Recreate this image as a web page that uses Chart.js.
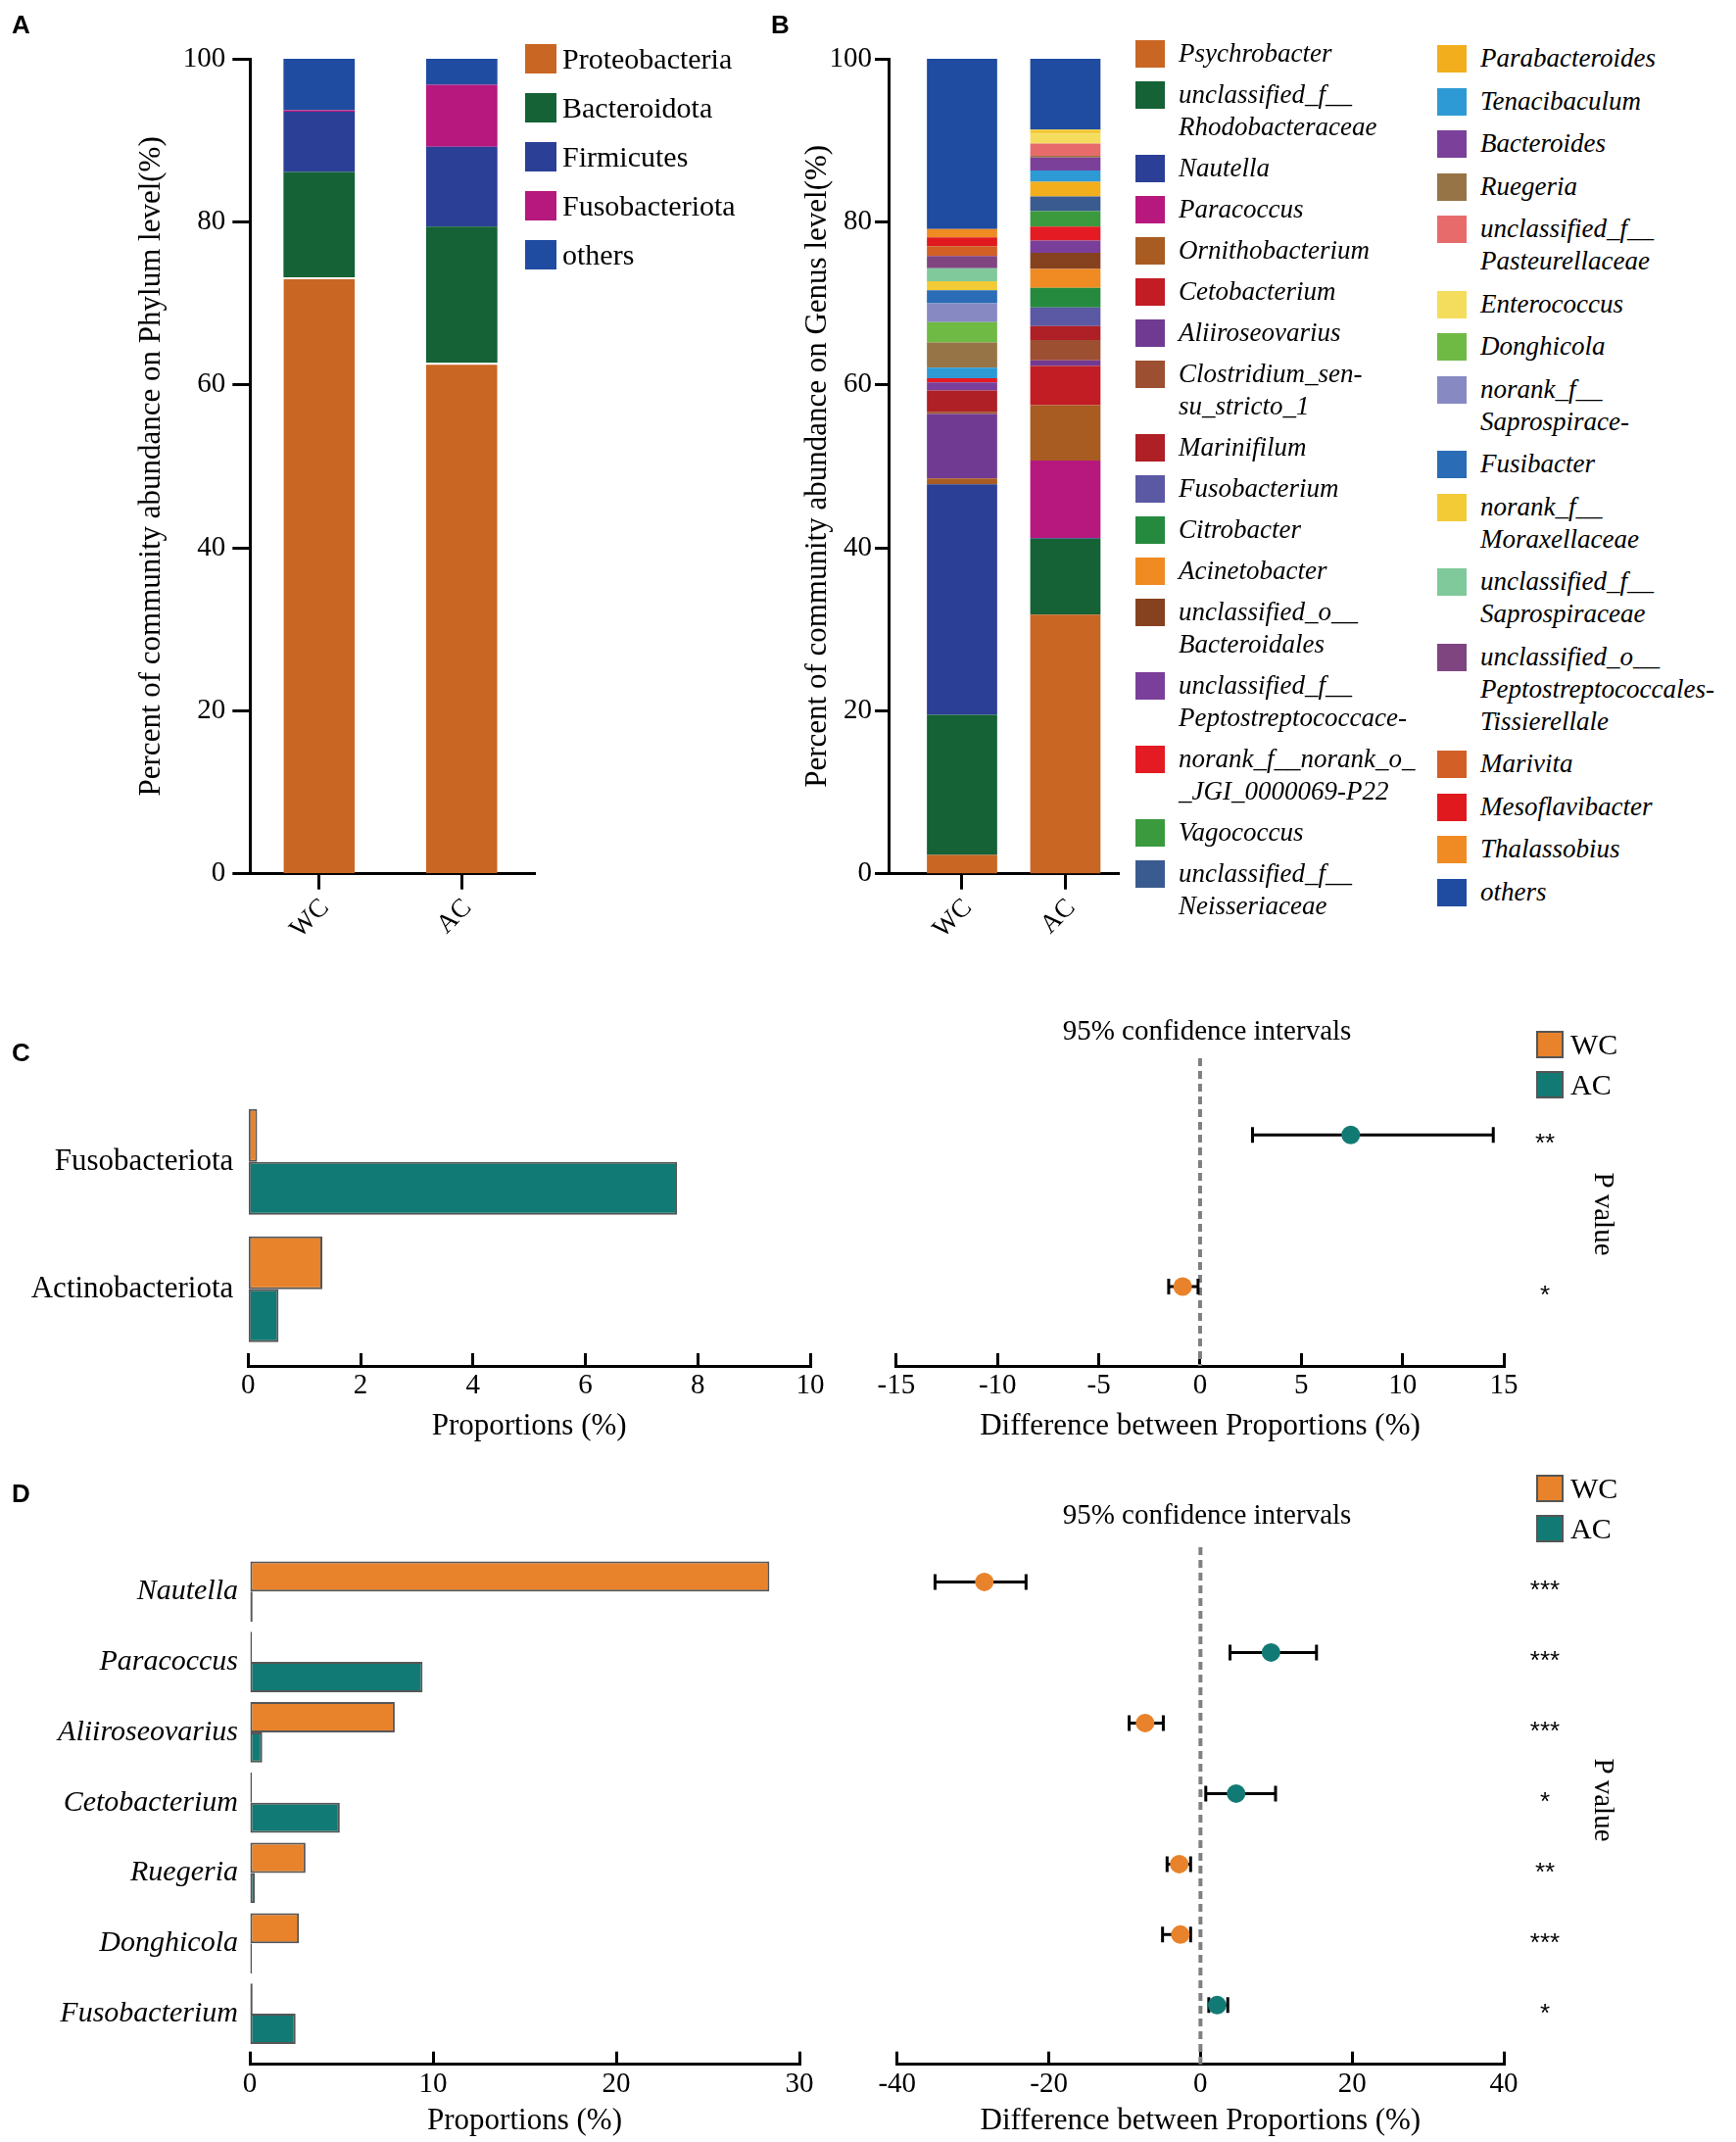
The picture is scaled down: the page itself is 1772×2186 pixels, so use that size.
<!DOCTYPE html>
<html lang="en">
<head>
<meta charset="UTF-8">
<title>Community composition and STAMP plots</title>
<script src="https://cdn.jsdelivr.net/npm/chart.js@4.4.0/dist/chart.umd.min.js"></script>
<style>
  body { margin: 0; background: #fff; }
  #page { position: relative; width: 1772px; height: 2186px; overflow: hidden;
          font-family: 'Liberation Serif', 'Times New Roman', serif; color: #000; }
  .box { position: absolute; }
  .tag { position: absolute; font-family: 'Liberation Sans', Arial, sans-serif; font-weight: bold; font-size: 26px; line-height: 1; }
  .txt { position: absolute; white-space: nowrap; line-height: 1; }
  .lgA { position: absolute; left: 536px; top: 35px; }
  .lgA .row { display: flex; align-items: center; height: 50px; font-size: 30px; }
  .lgA .sq { width: 32px; height: 30px; margin-right: 6px; }
  .lgB { position: absolute; display: flex; flex-direction: column; font-style: italic; font-size: 27px; line-height: 33px; }
  .lgB .row { display: flex; align-items: flex-start; }
  .lgB .sq { width: 30px; height: 28px; margin-top: 3px; margin-right: 14px; flex: none; }
  .lgB .lab { white-space: pre; }
  .lgG { position: absolute; font-size: 30px; }
  .lgG .row { display: flex; align-items: center; height: 40.6px; }
  .lgG .sq { width: 24px; height: 24px; border: 2.5px solid #555; margin-right: 7px; }
  .pval { position: absolute; writing-mode: vertical-rl; font-size: 29px; line-height: 1; transform: translate(-50%, -50%); }
</style>
</head>
<body>
<div id="page">
  <div class="box" style="left:0;top:0;width:780px;height:980px"><canvas id="chartA"></canvas></div>
  <div class="box" style="left:780px;top:0;width:400px;height:980px"><canvas id="chartB"></canvas></div>
  <div class="box" style="left:0;top:1000px;width:880px;height:480px"><canvas id="chartC1"></canvas></div>
  <div class="box" style="left:880px;top:1000px;width:892px;height:480px"><canvas id="chartC2"></canvas></div>
  <div class="box" style="left:0;top:1540px;width:880px;height:646px"><canvas id="chartD1"></canvas></div>
  <div class="box" style="left:880px;top:1540px;width:892px;height:646px"><canvas id="chartD2"></canvas></div>

  <div class="tag" style="left:12px;top:12px">A</div>
  <div class="tag" style="left:787px;top:12px">B</div>
  <div class="tag" style="left:12px;top:1061px">C</div>
  <div class="tag" style="left:12px;top:1511px">D</div>

  <div id="legendA" class="lgA"></div>
  <div id="legendB1" class="lgB" style="left:1159px;top:38px;gap:9px"></div>
  <div id="legendB2" class="lgB" style="left:1467px;top:43px;gap:10.5px"></div>

  <div class="txt" style="left:1232px;top:1037px;font-size:29px;transform:translateX(-50%)">95% confidence intervals</div>
  <div class="txt" style="left:1232px;top:1531px;font-size:29px;transform:translateX(-50%)">95% confidence intervals</div>
  <div id="legendC" class="lgG" style="left:1568px;top:1046px"></div>
  <div id="legendD" class="lgG" style="left:1568px;top:1499px"></div>
  <div class="pval" style="left:1637px;top:1239px">P value</div>
  <div class="pval" style="left:1637px;top:1837px">P value</div>
</div>

<script>
// Panel A: phylum level composition
const groups = ['WC', 'AC'];
const phylumNames = ['Proteobacteria', 'Bacteroidota', 'Firmicutes', 'Fusobacteriota', 'others'];
const phylumColors = ['#C96623', '#146235', '#2B3F97', '#B7187D', '#1F4CA1'];
const phylumWC = [73.2, 12.9, 7.4, 0.2, 6.3];
const phylumAC = [62.7, 16.7, 9.8, 7.6, 3.2];

// Panel B: genus level composition (legend labels keep their line breaks)
const genusNames = [
  'Psychrobacter', 'unclassified_f__\nRhodobacteraceae', 'Nautella', 'Paracoccus',
  'Ornithobacterium', 'Cetobacterium', 'Aliiroseovarius', 'Clostridium_sen-\nsu_stricto_1',
  'Marinifilum', 'Fusobacterium', 'Citrobacter', 'Acinetobacter',
  'unclassified_o__\nBacteroidales', 'unclassified_f__\nPeptostreptococcace-',
  'norank_f__norank_o_\n_JGI_0000069-P22', 'Vagococcus', 'unclassified_f__\nNeisseriaceae',
  'Parabacteroides', 'Tenacibaculum', 'Bacteroides', 'Ruegeria',
  'unclassified_f__\nPasteurellaceae', 'Enterococcus', 'Donghicola',
  'norank_f__\nSaprospirace-', 'Fusibacter', 'norank_f__\nMoraxellaceae',
  'unclassified_f__\nSaprospiraceae', 'unclassified_o__\nPeptostreptococcales-\nTissierellale',
  'Marivita', 'Mesoflavibacter', 'Thalassobius', 'others'
];
const genusColors = [
  '#C96623', '#146235', '#2B3F97', '#B7187D',
  '#A85C22', '#C21C24', '#713A92', '#9D4F31',
  '#AF1F26', '#5B58A4', '#258A3E', '#EF8B22',
  '#86421F', '#7A3F9A', '#E41B22', '#3B9A3E', '#3A5B8F',
  '#F2AE1C', '#2E9AD5', '#7B409A', '#977446',
  '#E86B6B', '#F4DD5C', '#6EBA45', '#8789C3', '#2A6CB5', '#F2CB36',
  '#7FC99B', '#7F4581', '#D15F26', '#E0191E', '#EF8B22', '#1F4CA1'
];
const genusWC = [2.3, 17.2, 28.3, 0, 0.7, 0, 7.9, 0.3, 2.6, 0, 0, 0, 0, 1.0, 0.5, 0, 0,
                 0, 1.3, 0, 3.1, 0, 0, 2.5, 2.3, 1.6, 1.1, 1.6, 1.5, 1.2, 1.1, 1.0, 20.9];
const genusAC = [31.8, 9.3, 0.1, 9.5, 6.8, 4.8, 0.7, 2.5, 1.7, 2.3, 2.4, 2.3, 2.0, 1.5, 1.7, 1.9, 1.8,
                 1.8, 1.4, 1.6, 0.2, 1.5, 1.2, 0, 0, 0, 0.5, 0, 0, 0, 0, 0, 8.7];

// Panel C: phylum level differences
const phylaC = ['Fusobacteriota', 'Actinobacteriota'];
const propWC_C = [0.16, 1.32];
const propAC_C = [7.63, 0.54];
const diffC = [7.44, -0.86];
const ciLowC = [2.59, -1.55];
const ciHighC = [14.48, -0.10];
const starsC = ['**', '*'];

// Panel D: genus level differences
const generaD = ['Nautella', 'Paracoccus', 'Aliiroseovarius', 'Cetobacterium', 'Ruegeria', 'Donghicola', 'Fusobacterium'];
const propWC_D = [28.36, 0.12, 7.91, 0.12, 3.04, 2.68, 0.15];
const propAC_D = [0.15, 9.43, 0.68, 4.91, 0.27, 0.12, 2.5];
const diffD = [-28.5, 9.3, -7.3, 4.7, -2.8, -2.65, 2.2];
const ciLowD = [-35.0, 3.9, -9.4, 0.7, -4.4, -5.0, 1.1];
const ciHighD = [-23.0, 15.3, -4.9, 9.9, -1.3, -1.3, 3.6];
const starsD = ['***', '***', '***', '*', '**', '***', '*'];

const ORANGE = '#E8832B';
const TEAL = '#127A74';
const EDGE = '#565656';
const SERIF = "'Liberation Serif', 'Times New Roman', serif";

Chart.defaults.font.family = SERIF;
Chart.defaults.color = '#000';
Chart.defaults.animation = false;
Chart.defaults.events = [];
Chart.defaults.maintainAspectRatio = false;
Chart.defaults.plugins.legend.display = false;
Chart.defaults.plugins.tooltip.enabled = false;

function fixWidth(w) { return function (scale) { scale.width = w; }; }
function fixHeight(h) { return function (scale) { scale.height = h; }; }
// one tick per category on a linear index axis
function categoryTicks(list) { return function (scale) { scale.ticks = list.map((c, i) => ({ value: i })); }; }

// dashed zero line, confidence interval whiskers and p-value stars
const ciPlugin = {
  id: 'ci',
  beforeDatasetsDraw(chart, args, opts) {
    const { ctx, chartArea, scales: { x, y } } = chart;
    ctx.save();
    const x0 = x.getPixelForValue(0);
    ctx.strokeStyle = '#808080';
    ctx.lineWidth = 4;
    ctx.setLineDash([8, 5]);
    ctx.beginPath();
    ctx.moveTo(x0, chartArea.top);
    ctx.lineTo(x0, chartArea.bottom);
    ctx.stroke();
    ctx.setLineDash([]);
    ctx.strokeStyle = '#000';
    ctx.lineWidth = 3;
    opts.low.forEach((lo, i) => {
      const yp = y.getPixelForValue(i);
      const a = x.getPixelForValue(lo);
      const b = x.getPixelForValue(opts.high[i]);
      ctx.beginPath();
      ctx.moveTo(a, yp); ctx.lineTo(b, yp);
      ctx.moveTo(a, yp - opts.cap); ctx.lineTo(a, yp + opts.cap);
      ctx.moveTo(b, yp - opts.cap); ctx.lineTo(b, yp + opts.cap);
      ctx.stroke();
    });
    ctx.restore();
  },
  afterDraw(chart, args, opts) {
    const { ctx, chartArea, scales: { y } } = chart;
    ctx.save();
    ctx.fillStyle = '#000';
    ctx.font = "26px 'Liberation Sans', Arial, sans-serif";
    ctx.textAlign = 'center';
    ctx.textBaseline = 'alphabetic';
    opts.stars.forEach((s, i) => {
      ctx.fillText(s, chartArea.right + 42, y.getPixelForValue(i) + 17);
    });
    ctx.restore();
  }
};

// stacked composition bars (A and B); the group axis is linear so the
// two bars can sit off-centre on the axis the way the original does
function compositionChart(id, names, colors, wc, ac, opt) {
  return new Chart(document.getElementById(id), {
    type: 'bar',
    data: {
      datasets: names.map((name, i) => ({
        label: name,
        data: [{ x: 0, y: wc[i] }, { x: 1, y: ac[i] }],
        backgroundColor: colors[i],
        borderColor: '#fff',
        borderWidth: opt.whiteTop && i === 0 ? { top: 2, left: 0, right: 0, bottom: 0 } : 0,
        barPercentage: opt.bar,
        categoryPercentage: 1
      }))
    },
    options: {
      layout: { padding: opt.padding },
      scales: {
        x: {
          type: 'linear', stacked: true, offset: false, min: opt.xmin, max: opt.xmax,
          afterBuildTicks: categoryTicks(groups),
          grid: { drawOnChartArea: false, offset: false, tickLength: 16, tickWidth: 3, tickColor: '#000' },
          border: { color: '#000', width: 3 },
          ticks: { callback: (v) => groups[v], font: { size: 27 }, minRotation: 45, maxRotation: 45, padding: 3, labelOffset: 6 },
          afterFit: fixHeight(80)
        },
        y: {
          stacked: true, min: 0, max: 100,
          ticks: { stepSize: 20, font: { size: 29 }, padding: opt.tickPad },
          grid: { drawOnChartArea: false, tickLength: opt.tick, tickWidth: 3, tickColor: '#000' },
          border: { color: '#000', width: 3 },
          title: { display: true, text: opt.title, font: { size: 31 }, padding: 0 },
          afterFit: fixWidth(opt.yw)
        }
      }
    }
  });
}

const chartA = compositionChart('chartA', phylumNames, phylumColors, phylumWC, phylumAC, {
  padding: { left: 136, top: 60, right: 234, bottom: 8.3 },
  xmin: -0.486, xmax: 1.513, bar: 0.5, tick: 17.7, tickPad: 7, yw: 119, whiteTop: true,
  title: 'Percent of community abundance on Phylum level(%)'
});
const chartB = compositionChart('chartB', genusNames, genusColors, genusWC, genusAC, {
  padding: { left: 36.4, top: 60, right: 38, bottom: 8.3 },
  xmin: -0.711, xmax: 1.517, bar: 0.68, tick: 14, tickPad: 3, yw: 90.6, whiteTop: false,
  title: 'Percent of community abundance on Genus level(%)'
});

// proportion bars (C and D, left)
function proportionChart(id, cats, wc, ac, opt) {
  return new Chart(document.getElementById(id), {
    type: 'bar',
    data: {
      datasets: [
        { label: 'WC', data: cats.map((c, i) => ({ x: wc[i], y: i })), backgroundColor: ORANGE },
        { label: 'AC', data: cats.map((c, i) => ({ x: ac[i], y: i })), backgroundColor: TEAL }
      ]
    },
    options: {
      indexAxis: 'y',
      layout: { padding: opt.padding },
      datasets: { bar: { categoryPercentage: opt.cat, barPercentage: 1, borderColor: EDGE, borderWidth: 2, borderSkipped: false } },
      scales: {
        x: {
          type: 'linear', min: 0, max: opt.max,
          ticks: { stepSize: opt.step, font: { size: 29 }, padding: opt.tickPad },
          grid: { drawOnChartArea: false, tickLength: -13, tickWidth: 3, tickColor: '#000' },
          border: { color: '#000', width: 3 },
          title: { display: true, text: 'Proportions (%)', font: { size: 31 }, padding: 0 },
          afterFit: fixHeight(opt.xh)
        },
        y: {
          type: 'linear', reverse: true, offset: false, min: opt.ymin, max: opt.ymax,
          afterBuildTicks: categoryTicks(cats),
          ticks: { callback: (v) => cats[v], font: { size: opt.labSize, style: opt.italic ? 'italic' : 'normal' }, padding: opt.labPad },
          grid: { display: false, drawTicks: false, offset: false },
          border: { display: false },
          afterFit: fixWidth(opt.yw)
        }
      }
    }
  });
}

// difference dots with confidence intervals (C and D, right)
function differenceChart(id, cats, diff, wc, ac, low, high, stars, opt) {
  return new Chart(document.getElementById(id), {
    type: 'scatter',
    data: {
      datasets: [{
        data: diff.map((d, i) => ({ x: d, y: i })),
        pointBackgroundColor: cats.map((c, i) => (ac[i] > wc[i] ? TEAL : ORANGE)),
        pointBorderWidth: 0,
        pointRadius: 9.5
      }]
    },
    plugins: [ciPlugin],
    options: {
      layout: { padding: opt.padding },
      plugins: { ci: { low: low, high: high, stars: stars, cap: 8 } },
      scales: {
        x: {
          type: 'linear', min: opt.min, max: opt.max,
          ticks: { stepSize: opt.step, font: { size: 29 }, padding: opt.tickPad },
          grid: { drawOnChartArea: false, tickLength: -13, tickWidth: 3, tickColor: '#000' },
          border: { color: '#000', width: 3 },
          title: { display: true, text: 'Difference between Proportions (%)', font: { size: 31 }, padding: 0 },
          afterFit: fixHeight(opt.xh)
        },
        y: { type: 'linear', display: false, reverse: true, min: opt.ymin, max: opt.ymax }
      }
    }
  });
}

proportionChart('chartC1', phylaC, propWC_C, propAC_C, {
  padding: { left: 0, top: 120.7, right: 53, bottom: 5.4 },
  max: 10, step: 2, tickPad: 15.6, xh: 80.6, cat: 0.83,
  ymin: -0.5, ymax: 1.602, labPad: 15, labSize: 31, yw: 253.3, italic: false
});
differenceChart('chartC2', phylaC, diffC, propWC_C, propAC_C, ciLowC, ciHighC, starsC, {
  padding: { left: 31, top: 80, right: 237, bottom: 5.4 },
  min: -15, max: 15, step: 5, tickPad: 15.6, xh: 80.6,
  ymin: -0.506, ymax: 1.524
});
proportionChart('chartD1', generaD, propWC_D, propAC_D, {
  padding: { left: 0, top: 48.4, right: 64, bottom: 2.4 },
  max: 30, step: 10, tickPad: 16.4, xh: 76.9, cat: 0.86,
  ymin: -0.5, ymax: 6.719, labPad: 12, labSize: 30, yw: 255, italic: true
});
differenceChart('chartD2', generaD, diffD, propWC_D, propAC_D, ciLowD, ciHighD, starsD, {
  padding: { left: 31, top: 38.9, right: 237, bottom: 2.4 },
  min: -40, max: 40, step: 20, tickPad: 16.4, xh: 76.9,
  ymin: -0.493, ymax: 6.838
});

// HTML legends built from the chart datasets
function legendRow(color, text) {
  const row = document.createElement('div');
  row.className = 'row';
  const sq = document.createElement('span');
  sq.className = 'sq';
  sq.style.background = color;
  row.appendChild(sq);
  const t = document.createElement('span');
  t.className = 'lab';
  t.textContent = text;
  row.appendChild(t);
  return row;
}

chartA.data.datasets.forEach((ds) => {
  document.getElementById('legendA').appendChild(legendRow(ds.backgroundColor, ds.label));
});
chartB.data.datasets.forEach((ds, i) => {
  const col = i < 17 ? 'legendB1' : 'legendB2';
  document.getElementById(col).appendChild(legendRow(ds.backgroundColor, ds.label));
});
['legendC', 'legendD'].forEach((id) => {
  groups.forEach((g, i) => {
    document.getElementById(id).appendChild(legendRow(i === 0 ? ORANGE : TEAL, (i === 1 ? ' ' : '') + g));
  });
});
</script>
</body>
</html>
